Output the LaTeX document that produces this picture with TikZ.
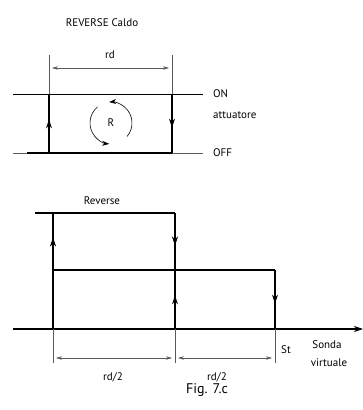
\documentclass[tikz,border=0pt]{standalone}
\usepackage{fontspec}
\setmainfont{PT Sans}
\usetikzlibrary{arrows.meta,decorations.markings}

\tikzset{
  midarrow/.style={postaction={decorate},
    decoration={markings,mark=at position 0.57 with {\arrow{Stealth[length=9pt,width=6pt]}}}},
  loopline/.style={line width=1.1pt},
  guide/.style={line width=0.5pt, black!65},
  dimline/.style={guide, {Stealth[length=6pt,width=3.5pt]}-{Stealth[length=6pt,width=3.5pt]}},
  lbl/.style={font=\fontsize{11}{13}\selectfont, inner sep=0pt},
}

\begin{document}
\begin{tikzpicture}[x=1pt,y=1pt]
  \useasboundingbox (0,0) rectangle (363,410);

  % upper diagram: REVERSE Caldo
  \node[lbl] (title) at (102,387) {REVERSE Caldo};
  \draw[guide] (49,355) -- (49,316);
  \draw[guide] (172,355) -- (172,316);
  \draw[dimline] (52,342) -- (169,342);
  \node[lbl] (rd) at (110,355) {rd};
  \draw[line width=0.6pt] (13,316) -- (203,316);
  \draw[guide] (13,257) -- (203,257);
  \draw[loopline] (27,257) -- (172,257);
  \draw[loopline, midarrow] (49,257) -- (49,316);
  \draw[loopline, midarrow] (172,316) -- (172,257);
  \node[lbl, anchor=west] (on) at (213,316) {ON};
  \node[lbl, anchor=west] (att) at (213,295) {attuatore};
  \node[lbl, anchor=west] (off) at (213,257) {OFF};

  % rotation sign
  \coordinate (c) at (111,287);
  \node[lbl] (r) at (c) {R};
  \draw[line width=0.6pt, -{Stealth[length=7pt,width=5pt]}]
    ([shift={(-40:21)}]c) arc[start angle=-40, end angle=95, radius=21];
  \draw[line width=0.6pt, -{Stealth[length=7pt,width=5pt]}]
    ([shift={(130:21)}]c) arc[start angle=130, end angle=265, radius=21];

  % lower diagram: Reverse
  \node[lbl] (rev) at (102,209) {Reverse};
  \draw[loopline] (35,197) -- (175,197);
  \draw[loopline, midarrow] (53,140) -- (53,197);
  \draw[loopline] (53,81) -- (53,140) -- (275,140);
  \draw[loopline, midarrow] (175,197) -- (175,140);
  \draw[loopline, midarrow] (175,81) -- (175,140);
  \draw[loopline, midarrow] (275,140) -- (275,81);
  \draw[loopline, -{Stealth[length=9pt,width=6pt]}] (13,81) -- (363,81);
  \draw[guide] (53,81) -- (53,47);
  \draw[guide] (175,81) -- (175,47);
  \draw[guide] (275,81) -- (275,47);
  \draw[dimline] (56,52) -- (172,52);
  \draw[dimline] (178,52) -- (272,52);
  \node[lbl] (half1) at (113,33) {rd/2};
  \node[lbl] (half2) at (217,33) {rd/2};
  \node[lbl] (st) at (286,60) {St};
  \node[lbl] (sonda) at (327,65) {Sonda};
  \node[lbl] (virt) at (329,47) {virtuale};
  \node[font=\fontsize{14}{16}\selectfont, inner sep=0pt] (fig) at (207,20) {Fig. 7.c};
\end{tikzpicture}
\end{document}
